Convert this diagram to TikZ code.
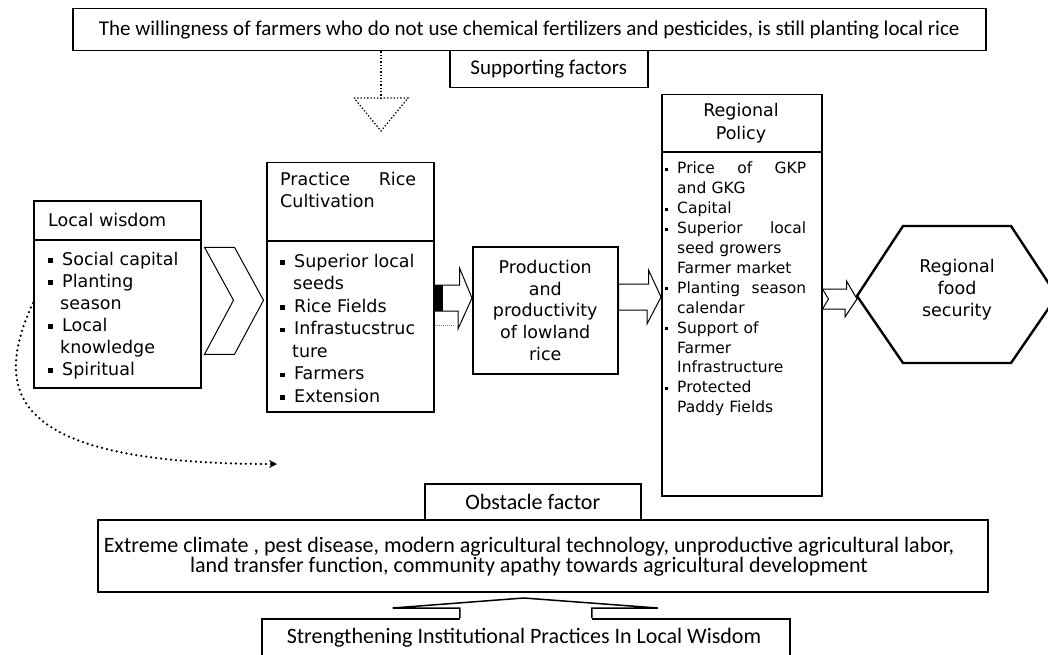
\documentclass[tikz,border=0pt]{standalone}
\usepackage{fontspec}
\setmainfont{DejaVu Sans}
\newfontfamily\calibri{Carlito}
\usetikzlibrary{calc,arrows.meta}
\newcommand{\sqbullet}{\makebox[14pt][l]{\rule[2.5pt]{4.5pt}{4.5pt}}}
\newcommand{\dotbullet}{\makebox[12pt][l]{\rule[3pt]{3pt}{3pt}}}

\begin{document}
\begin{tikzpicture}[
    x=1pt, y=-1pt,
    box/.style={rectangle, draw=black, line width=1.5pt, fill=white, inner sep=0pt, anchor=north west},
    bigtext/.style={inner sep=0pt, font=\fontsize{17.5}{22}\selectfont},
    smalltext/.style={inner sep=0pt, font=\fontsize{15.5}{19.9}\selectfont},
    caltext/.style={inner sep=0pt, font=\calibri\fontsize{22}{20}\selectfont},
    blockarrow/.style={draw=black, line width=1pt, fill=white, line join=miter},
    dotline/.style={line width=1.3pt, dash pattern=on 1.3pt off 2pt},
    curvedots/.style={line width=2.5pt, dash pattern=on 0pt off 5pt, line cap=round},
  ]

  \useasboundingbox (0,0) rectangle (1048,655);

  % Top boxes
  \node[box, minimum width=913pt, minimum height=42pt, font=\calibri\fontsize{21}{20}\selectfont] (TB) at (72,8) {The willingness of farmers who do not use chemical fertilizers and pesticides, is still planting local rice};
  \node[box, caltext, minimum width=198pt, minimum height=37pt, font=\calibri\fontsize{21}{22}\selectfont] (SF) at (449,50) {Supporting factors};

  % Dotted triangle
  \coordinate (TRtop) at (381,98);
  \draw[dotline] (TB.south -| TRtop) -- (TRtop);
  \draw[dotline] (TRtop) ++(-27,0) -- ++(54,0) -- ++(-27,33) -- cycle;

  % Local wisdom
  \node[box, minimum width=167pt, minimum height=187pt] (LW) at (33,200) {};
  \draw[line width=1.5pt] ($(LW.north west)+(0,40)$) -- ($(LW.north east)+(0,40)$);
  \node[bigtext, anchor=west] (LWh) at (48,220) {Local wisdom};
  \node[bigtext, anchor=north west, align=left] (LWl) at (48,252) {\sqbullet Social capital\\ \sqbullet Planting\\ \hspace*{12pt}season\\ \sqbullet Local\\ \hspace*{12pt}knowledge\\ \sqbullet Spiritual};

  % Chevron
  \draw[blockarrow] ($(LW.east)+(3,-47)$) -- ++(30,0) -- ++(29,53) -- ++(-29,54) -- ++(-30,0) -- ++(29,-54) -- cycle;

  % Practice rice cultivation
  \node[box, minimum width=167pt, minimum height=249pt] (PR) at (266,162) {};
  \draw[line width=1.5pt] ($(PR.north west)+(0,79)$) -- ($(PR.north east)+(0,79)$);
  \node[bigtext, anchor=north west, align=left, text width=136pt] (PRh) at (280,172) {Practice\hfill Rice\\Cultivation};
  \node[bigtext, anchor=north west, align=left, font=\fontsize{17.5}{22.5}\selectfont] (PRl) at (280,254) {\sqbullet Superior local\\ \hspace*{13pt}seeds\\ \sqbullet Rice Fields\\ \sqbullet Infrastucstruc\\ \hspace*{12pt}ture\\ \sqbullet Farmers\\ \sqbullet Extension};

  % Production
  \node[box, bigtext, align=center, minimum width=145pt, minimum height=127pt, font=\fontsize{17.5}{21.7}\selectfont] (PD) at (472,246) {Production\\and\\productivity\\of lowland\\rice};

  % Regional policy
  \node[box, minimum width=160pt, minimum height=401pt] (PP) at (661,94) {};
  \draw[line width=1.5pt] ($(PP.north west)+(0,58)$) -- ($(PP.north east)+(0,58)$);
  \node[bigtext, align=center, font=\fontsize{17.5}{23}\selectfont] (PPh) at (741,123) {Regional\\Policy};
  \node[smalltext, anchor=north west, align=left, text width=145pt] (PPl) at (665,162) {\dotbullet\makebox[129pt][s]{Price\hfill of\hfill GKP}\\ \hspace*{12pt}and GKG\\ \dotbullet Capital\\ \dotbullet\makebox[129pt][s]{Superior\hfill local}\\ \hspace*{12pt}seed growers\\ \hspace*{12pt}Farmer market\\ \dotbullet\makebox[129pt][s]{Planting\hfill season}\\ \hspace*{12pt}calendar\\ \dotbullet Support of\\ \hspace*{12pt}Farmer\\ \hspace*{12pt}Infrastructure\\ \dotbullet Protected\\ \hspace*{12pt}Paddy Fields};

  % Food security hexagon
  \coordinate (FSw) at (857,296);
  \draw[line width=2.4pt, line join=miter] (FSw) -- ++(46,-70) -- ++(108,0) -- ++(46,70) -- ++(-46,67) -- ++(-108,0) -- cycle;
  \node[bigtext, align=center] (FS) at (957,290) {Regional\\food\\security};

  % Block arrows
  \draw[blockarrow] (PR.east |- 0,285) -- ++(25,0) -- ++(0,-17) -- (PD.west |- 0,298) -- ++(-14,31) -- ++(0,-18) -- (PR.east |- 0,311) -- cycle;
  \fill (PR.east |- 0,285) rectangle ++(8,26);
  \draw[densely dotted, gray, line width=1pt] (PR.east |- 0,325) -- ++(20,0);
  \draw[blockarrow] (PD.east |- 0,284) -- ++(30,0) -- ++(0,-14) -- (PP.west |- 0,297) -- ++(-14,27) -- ++(0,-14) -- (PD.east |- 0,310) -- cycle;
  \draw[blockarrow] (PP.east |- 0,289) -- ++(24,0) -- ++(0,-8) -- ($(FSw)+(0,3)$) -- ++(-12,18) -- ++(0,-8) -- (PP.east |- 0,309) -- ++(6,-10) -- cycle;

  % Curved dotted arrow
  \coordinate (CE) at (277,464);
  \draw[curvedots, -{Stealth[length=8pt,width=8pt]}] (LW.west |- 0,303) .. controls (-12,400) and (20,464) .. (CE);

  % Obstacles
  \node[box, caltext, minimum width=216pt, minimum height=36pt] (OF) at (424,483) {Obstacle factor};
  \node[box, minimum width=890pt, minimum height=72pt] (OL) at (97,519) {};
  \node[caltext, align=center] (OLt) at (529,557) {Extreme climate , pest disease, modern agricultural technology, unproductive agricultural labor,\\land transfer function, community apathy towards agricultural development};
  \node[box, minimum width=528pt, minimum height=60pt] (SI) at (261,618) {};
  \node[caltext] (SIt) at (524,638) {Strengthening Institutional Practices In Local Wisdom};

  % Up arrow
  \fill[white] ($(SI.north)+(-66,4)$) -- ++(0,-14) -- ++(-67,0) -- ++(131,-10) -- ++(134,10) -- ++(-66,0) -- ++(0,14) -- cycle;
  \draw[line width=1.5pt] ($(SI.north)+(-66,0)$) -- ++(0,-10) -- ++(-67,0) -- ++(131,-10) -- ++(134,10) -- ++(-66,0) -- ++(0,10);

\end{tikzpicture}
\end{document}
